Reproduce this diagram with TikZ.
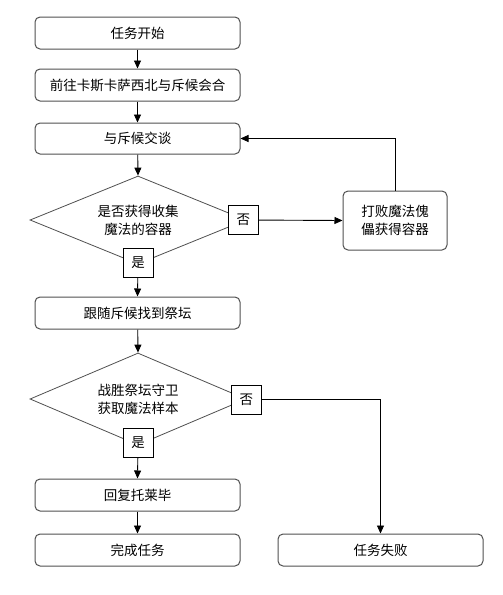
\documentclass[tikz,border=0pt]{standalone}
\usepackage{fontspec}
\setmainfont{Noto Sans CJK SC}
\usetikzlibrary{shapes.geometric,arrows.meta}
\definecolor{boxline}{HTML}{505050}
\tikzset{
  stepbox/.style={draw=boxline, line width=1pt, rounded corners=5pt, minimum width=205pt, minimum height=32pt, inner sep=0pt, font=\fontsize{13.5}{18}\selectfont, align=center},
  decide/.style={diamond, draw=boxline, line width=0.8pt, minimum width=216pt, inner sep=0pt, aspect=2.5, font=\fontsize{13.5}{18}\selectfont, align=center},
  lab/.style={draw=black, line width=0.8pt, fill=white, minimum width=30pt, minimum height=29pt, inner sep=0pt, font=\fontsize{13.5}{16}\selectfont},
  conn/.style={draw=black, line width=0.9pt, -{Triangle[length=8pt,width=7pt]}},
  plain/.style={draw=black, line width=0.9pt}
}
\begin{document}
\begin{tikzpicture}[x=1pt, y=-1pt]
\useasboundingbox[fill=white] (0,0) rectangle (503,595);
\node[stepbox] (b1) at (137.5,33) {任务开始};
\node[stepbox] (b2) at (137.5,85) {前往卡斯卡萨西北与斥候会合};
\node[stepbox, minimum height=31pt] (b3) at (137.5,138.5) {与斥候交谈};
\node[decide, minimum height=88pt] (d1) at (138,220) {是否获得收集\\魔法的容器};
\node[stepbox, minimum width=104pt, minimum height=59pt] (rb) at (395,220.5) {打败魔法傀\\儡获得容器};
\node[stepbox] (b4) at (137.5,313) {跟随斥候找到祭坛};
\node[decide, minimum height=92pt] (d2) at (138,399) {战胜祭坛守卫\\获取魔法样本};
\node[stepbox] (b5) at (137.5,495) {回复托莱毕};
\node[stepbox] (b6) at (137.5,550) {完成任务};
\node[stepbox] (fail) at (380.5,550) {任务失败};

\draw[conn] (b1) -- (b2);
\draw[conn] (b2) -- (b3);
\draw[conn] (b3) -- (d1.north);
\draw[conn] (d1.south) -- node[lab, pos=0, yshift=2pt] {是} (b4.north);
\draw[conn] (d1.east) -- node[lab, pos=0, xshift=-3pt] {否} (rb.west);
\draw[conn] (rb.north) |- (b3.east);
\draw[conn] (b4) -- (d2.north);
\draw[conn] (d2.south) -- node[lab, pos=0, yshift=3pt] {是} (b5.north);
\draw[conn] (d2.east) -| node[lab, pos=0, yshift=-1pt] {否} (fail.north);
\draw[conn] (b5) -- (b6);
\end{tikzpicture}
\end{document}
